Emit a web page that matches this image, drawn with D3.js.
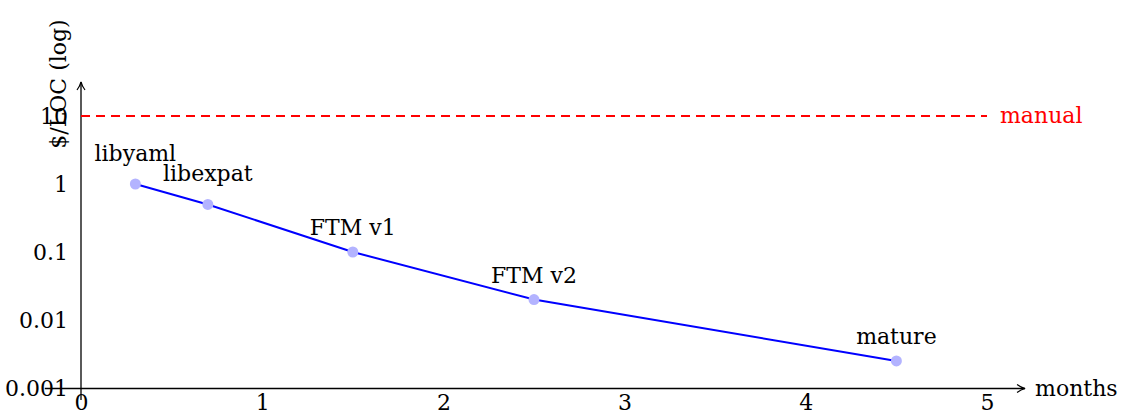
<!DOCTYPE html>
<html>
<head>
<meta charset="utf-8">
<script src="https://cdn.jsdelivr.net/npm/d3@7"></script>
<style>
  body { margin: 0; background: #fff; }
  svg text { font-family: 'DejaVu Serif', serif; font-size: 22px; }
</style>
</head>
<body>
<div id="chart"></div>
<script>
// data
const pointLabels = ["libyaml", "libexpat", "FTM v1", "FTM v2", "mature"];
const months = [0.3, 0.7, 1.5, 2.5, 4.5];
const costPerLoc = [1, 0.5, 0.1, 0.02, 0.0025];
const manualCost = 10;
const manualLabel = "manual";

const xTicks = [0, 1, 2, 3, 4, 5];
const xTickLabels = ["0", "1", "2", "3", "4", "5"];
const yTicks = [0.001, 0.01, 0.1, 1, 10];
const yTickLabels = ["0.001", "0.01", "0.1", "1", "10"];

const w = 1121, h = 417;

const svg = d3.select("#chart").append("svg")
    .attr("width", w)
    .attr("height", h);

const x = d3.scaleLinear()
    .domain([0, 5])
    .range([81, 987]);

const y = d3.scaleLog()
    .domain([0.001, 10])
    .range([388, 116]);

// AXES
const xAxis = svg.append("g")
    .attr("class", "x axis")
    .attr("transform", "translate(0," + y(0.001) + ")")
    .call(d3.axisBottom(x).tickValues(xTicks).tickSize(0).tickPadding(6)
        .tickFormat((d, i) => xTickLabels[i]));
xAxis.select(".domain").remove();
xAxis.attr("font-family", null).attr("font-size", null);
xAxis.selectAll("text").attr("fill", "#000");

const yAxis = svg.append("g")
    .attr("class", "y axis")
    .attr("transform", "translate(" + x(0) + ",0)")
    .call(d3.axisLeft(y).tickValues(yTicks).tickSize(0).tickPadding(13)
        .tickFormat((d, i) => yTickLabels[i]));
yAxis.select(".domain").remove();
yAxis.attr("font-family", null).attr("font-size", null);
yAxis.selectAll("text").attr("fill", "#000");

// arrow head
svg.append("defs").append("marker")
    .attr("id", "arrow")
    .attr("viewBox", "0 0 10 10")
    .attr("refX", 9).attr("refY", 5)
    .attr("markerWidth", 10).attr("markerHeight", 10)
    .attr("markerUnits", "userSpaceOnUse")
    .attr("orient", "auto")
    .append("path")
    .attr("d", "M1,1 Q5,4 9,5 Q5,6 1,9")
    .attr("fill", "none")
    .attr("stroke", "#000")
    .attr("stroke-width", 1.2);

// axis lines
svg.append("line")
    .attr("x1", x(-0.2)).attr("x2", x(5.21))
    .attr("y1", y(0.001) + 0.5).attr("y2", y(0.001) + 0.5)
    .attr("stroke", "#000").attr("stroke-width", 1.3)
    .attr("marker-end", "url(#arrow)");

svg.append("line")
    .attr("x1", x(0)).attr("x2", x(0))
    .attr("y1", 400).attr("y2", y(Math.pow(10, 1.5)))
    .attr("stroke", "#000").attr("stroke-width", 1.3)
    .attr("marker-end", "url(#arrow)");

// axis labels
svg.append("text")
    .text("months")
    .attr("x", x(5.21) + 10)
    .attr("y", y(0.001) + 8);

svg.append("text")
    .text("$/LOC (log)")
    .style("text-anchor", "middle")
    .attr("transform", "translate(66,84) rotate(-90)");

// manual line
svg.append("line")
    .attr("x1", x(0)).attr("x2", x(5))
    .attr("y1", y(manualCost)).attr("y2", y(manualCost))
    .attr("stroke", "#ff0000")
    .attr("stroke-width", 2)
    .attr("stroke-dasharray", "9,6");

svg.append("text")
    .text(manualLabel)
    .attr("fill", "#ff0000")
    .attr("x", x(5) + 13)
    .attr("y", y(manualCost) + 7);

// series
const pts = months.map((m, i) => ({ m: m, c: costPerLoc[i], name: pointLabels[i] }));

svg.append("path")
    .datum(pts)
    .attr("fill", "none")
    .attr("stroke", "#0000ff")
    .attr("stroke-width", 2)
    .attr("d", d3.line().x(d => x(d.m)).y(d => y(d.c)));

svg.selectAll(".dot").data(pts).enter()
    .append("circle")
    .attr("class", "dot")
    .attr("cx", d => x(d.m))
    .attr("cy", d => y(d.c))
    .attr("r", 5.5)
    .attr("fill", "#b3b3ff");

// labels sit above the node, bottom of the box (descenders included)
svg.selectAll(".lbl").data(pts).enter()
    .append("text")
    .attr("class", "lbl")
    .style("text-anchor", "middle")
    .attr("x", d => x(d.m))
    .attr("y", d => y(d.c) - 17 - (/[gjpqy]/.test(d.name) ? 6 : 0))
    .text(d => d.name);
</script>
</body>
</html>
